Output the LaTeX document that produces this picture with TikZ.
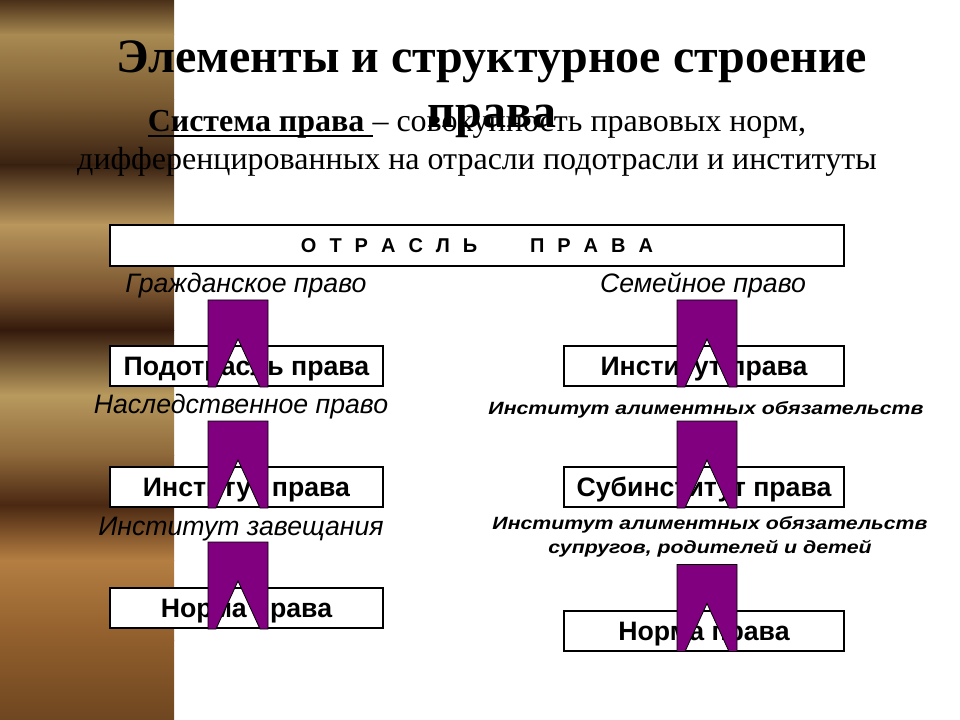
\documentclass[tikz,border=0pt]{standalone}
\usepackage{fontspec}
\setmainfont{Liberation Serif}
\setsansfont{Liberation Sans}
\newfontfamily\widesans[FakeStretch=1.2]{Liberation Sans}
\usepackage{tikz}

\definecolor{notchpurple}{HTML}{800080}
\definecolor{wood0}{HTML}{4A3018}
\definecolor{wood1}{HTML}{A88A52}
\definecolor{wood2}{HTML}{7C5C32}
\definecolor{wood3}{HTML}{3A2212}
\definecolor{wood4}{HTML}{B8965C}
\definecolor{wood5}{HTML}{7A5530}
\definecolor{wood6}{HTML}{341A0C}
\definecolor{wood7}{HTML}{B89A5E}
\definecolor{wood8}{HTML}{8E683A}
\definecolor{wood9}{HTML}{4A2812}
\definecolor{wood10}{HTML}{B47E42}
\definecolor{wood11}{HTML}{905E2C}
\definecolor{wood12}{HTML}{6E4620}

% thick underline that keeps a trailing space
\newcommand{\defline}[1]{%
  \setbox0\hbox{#1}\rlap{\rule[-3.6pt]{\wd0}{1.5pt}}\box0}

% purple notched arrow standing on a point
\newcommand{\notcharrow}[1]{%
  \draw[notch] (#1) ++(-30,0) -- ++(0,-87) -- ++(60,0) -- ++(0,87)
    -- ++(-8,0) -- ++(-22,-48) -- ++(-22,48) -- cycle;
}

\begin{document}
\begin{tikzpicture}[x=0.75pt, y=-0.75pt,
    box/.style={draw, line width=1.5pt, fill=white, inner sep=0pt,
      minimum height=30pt, text height=14.3pt, text depth=0pt,
      font=\sffamily\bfseries\fontsize{20}{24}\selectfont},
    lbox/.style={box, minimum width=204.75pt},
    rbox/.style={box, minimum width=210pt},
    note/.style={anchor=base, inner sep=0pt,
      font=\sffamily\itshape\fontsize{20}{24}\selectfont},
    bnote/.style={anchor=base, inner sep=0pt, align=center,
      font=\widesans\bfseries\itshape\fontsize{13.3}{18}\selectfont},
    notch/.style={draw=black, line width=0.6pt, fill=notchpurple}]
    % slide background
    \fill[white] (0,0) rectangle (960,720);
    \foreach \ya/\yb/\ca/\cb in {
      0/35/wood0/wood1, 35/100/wood1/wood2, 100/165/wood2/wood3,
      165/225/wood3/wood4, 225/290/wood4/wood5, 290/330/wood5/wood6,
      330/395/wood6/wood7, 395/455/wood7/wood8, 455/505/wood8/wood9,
      505/560/wood9/wood10, 560/640/wood10/wood11, 640/720/wood11/wood12}{
      \shade[top color=\ca, bottom color=\cb] (0,\ya) rectangle (174,\yb);
    }
    % title and definition
    \node[anchor=base, inner sep=0pt, font=\bfseries\fontsize{36}{40}\selectfont]
      (title) at (492,73) {Элементы и структурное строение};
    \node[anchor=base, inner sep=0pt, font=\bfseries\fontsize{36}{40}\selectfont]
      (title2) at (492,128) {права};
    \node[anchor=base, inner sep=0pt, font=\fontsize{24}{28}\selectfont]
      (def1) at (477,132) {\defline{\textbf{Система права}\ }– совокупность правовых норм,};
    \node[anchor=base, inner sep=0pt, font=\fontsize{24}{28}\selectfont]
      (def2) at (477,170) {дифференцированных на отрасли подотрасли и институты};
    % branch box
    \node[box, minimum width=550.5pt, minimum height=30.75pt, text height=10.7pt,
      font=\sffamily\bfseries\fontsize{15}{18}\selectfont]
      (branch) at (477,245.5)
      {\spaceskip=9.75pt\relax О Т Р А С Л Ь \hspace{20pt} П Р А В А};
    \node[note] (civil) at (246,292) {Гражданское право};
    \node[note] (family) at (703,292) {Семейное право};
    % left column
    \node[lbox] (lb1) at (246.5,366) {Подотрасль права};
    \node[note] (inherit) at (241,413) {Наследственное право};
    \node[lbox] (lb2) at (246.5,487) {Институт права};
    \node[note] (will) at (241,535) {Институт завещания};
    \node[lbox] (lb3) at (246.5,608) {Норма права};
    % right column
    \node[rbox] (rb1) at (704,366) {Институт права};
    \node[bnote] (alim) at (706,414) {Институт алиментных обязательств};
    \node[rbox] (rb2) at (704,487) {Субинститут права};
    \node[bnote] (alim2) at (710,553) {Институт алиментных обязательств\\
      супругов, родителей и детей};
    \node[rbox] (rb3) at (704,630.5) {Норма права};
    % notched arrows
    \coordinate (lx) at (238,0);
    \coordinate (rx) at (707,0);
    \foreach \b/\c in {lb1/lx, lb2/lx, lb3/lx, rb1/rx, rb2/rx, rb3/rx}{
      \notcharrow{\b.south -| \c}
    }
  \end{tikzpicture}
\end{document}
